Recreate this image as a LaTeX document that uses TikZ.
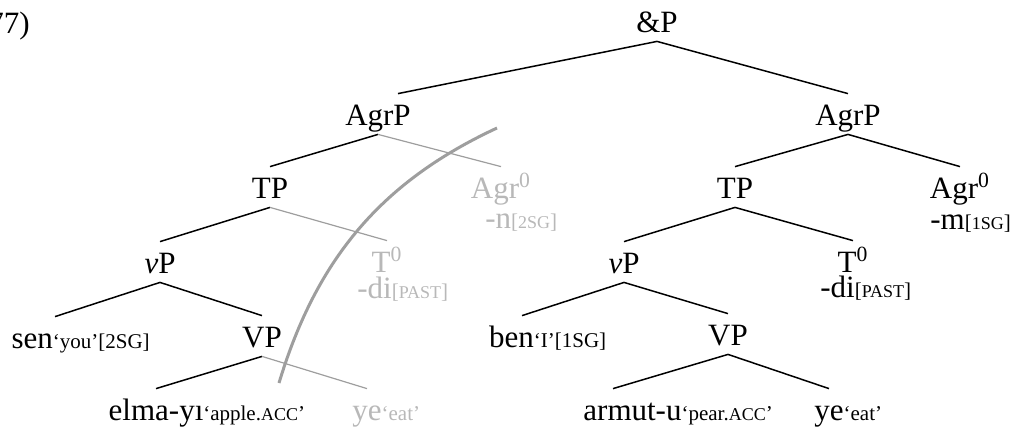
\documentclass[tikz,border=0pt]{standalone}
\usepackage{fontspec}
\setmainfont{Liberation Serif}
\usepackage{tikz}
\usetikzlibrary{positioning}

\definecolor{ghost}{gray}{0.72}
\definecolor{ghostline}{gray}{0.62}

\newcommand{\gl}[1]{{\fontsize{10.5}{11}\selectfont #1}}
\newcommand{\fsc}[1]{{\fontsize{9}{9}\selectfont #1}}

\begin{document}
\begin{tikzpicture}
        [
            x=0.5pt, y=-0.5pt,
            cat/.style={anchor=base, inner xsep=0pt, inner ysep=4.5pt,
                        text height=11pt, text depth=0pt,
                        font=\fontsize{15.5}{18}\selectfont},
            morph/.style={anchor=base west, inner sep=0pt,
                          font=\fontsize{15.5}{18}\selectfont},
            moved/.style={text=ghost},
            branch/.style={line width=0.75pt},
            trace/.style={line width=0.6pt, draw=ghostline},
            arcline/.style={line width=1.5pt, draw=ghostline}
        ]
        \useasboundingbox (0,0) rectangle (1020,430);
        \node (num) [cat, anchor=base east] at (30,33) {(77)};
        \node (andp) [cat] at (657,32) {\&P};
        \node (agrpl) [cat] at (378,125) {AgrP};
        \node (agrpr) [cat] at (848,125) {AgrP};
        \node (tpl) [cat] at (270,198) {TP};
        \node (tpr) [cat] at (735,198) {TP};
        \node (agrl) [cat, moved] at (501,198) {Agr\textsuperscript{0}};
        \node (agrr) [cat] at (960,198) {Agr\textsuperscript{0}};
        \node (nl) [morph, moved] at (485,228) {-n\gl{[\fsc{2SG}]}};
        \node (ml) [morph] at (930,229) {-m\gl{[\fsc{1SG}]}};
        \node (vPl) [cat] at (160,273) {\textit{v}P};
        \node (vPr) [cat] at (624,273) {\textit{v}P};
        \node (tl) [cat, moved] at (387,272) {T\textsuperscript{0}};
        \node (tr) [cat] at (853,272) {T\textsuperscript{0}};
        \node (dil) [morph, moved] at (357,298) {-di\gl{[\fsc{PAST}]}};
        \node (dir) [morph] at (820,297) {-di\gl{[\fsc{PAST}]}};
        \node (sen) [cat] at (55,348) {sen\gl{‘you’}\rlap{\gl{[2SG]}}};
        \node (ben) [cat] at (522,347) {ben\gl{‘I’}\rlap{\gl{[1SG]}}};
        \node (VPl) [cat] at (262,347) {VP};
        \node (VPr) [cat] at (728,345) {VP};
        \node (elma) [cat] at (156,420) {elma-yı\rlap{\gl{‘apple.\fsc{ACC}’}}};
        \node (yel) [cat, moved] at (367,420) {ye\rlap{\gl{‘eat’}}};
        \node (armut) [cat, anchor=base west] at (583,420) {armut-u\gl{‘pear.\fsc{ACC}’}};
        \node (yer) [cat] at (829,420) {ye\rlap{\gl{‘eat’}}};
        % overt branches
        \foreach \i/\j in {andp/agrpr, agrpl/tpl, agrpr/tpr, agrpr/agrr,
                           tpl/vPl, tpr/vPr, tpr/tr, vPl/sen, vPl/VPl,
                           vPr/ben, vPr/VPr, VPl/elma, VPr/yer}
            \draw [branch] (\i.south) -- (\j.north);
        \draw [branch] (andp.south) -- ([xshift=10pt]agrpl.north);
        \draw [branch] (VPr.south) -- ([xshift=15pt]armut.north west);
        % elided branches
        \foreach \i/\j in {agrpl/agrl, tpl/tl, VPl/yel}
            \draw [trace] (\i.south) -- (\j.north);
        \draw [arcline] (497,128) .. controls (383,181) and (317,257) .. (279,383);
    \end{tikzpicture}
\end{document}
